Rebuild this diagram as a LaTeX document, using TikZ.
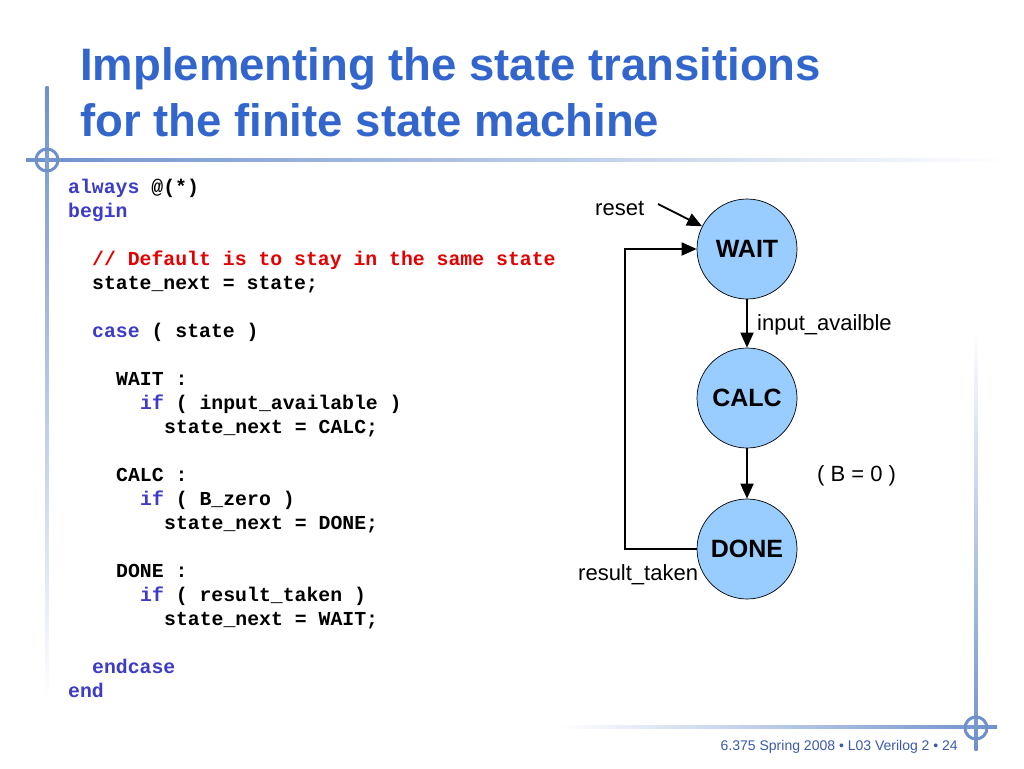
\documentclass[tikz,border=0pt]{standalone}
\usepackage{fontspec}
\setmainfont{Liberation Sans}
\newfontfamily\codefont{Liberation Mono}
\usetikzlibrary{arrows.meta}
\definecolor{titleblue}{RGB}{51,102,204}
\definecolor{deco}{RGB}{110,145,205}
\definecolor{kw}{RGB}{60,60,200}
\definecolor{cmt}{RGB}{228,0,0}
\definecolor{statefill}{RGB}{153,204,255}
\definecolor{footblue}{RGB}{60,90,170}
\begin{document}
\begin{tikzpicture}[x=1pt,y=-1pt,
  code/.style={anchor=base west,inner sep=0pt,font=\codefont\bfseries\fontsize{19.8}{24}\selectfont},
  state/.style={circle,draw=black,line width=0.7pt,fill=statefill,minimum size=100pt,inner sep=0pt,font=\bfseries\fontsize{25}{28}\selectfont},
  lbl/.style={inner sep=0pt,font=\fontsize{22}{26}\selectfont},
  arr/.style={line width=1.8pt,-{Triangle[length=15pt,width=13pt]}},
  decoline/.style={line width=3pt,draw=deco}]
\useasboundingbox (0,0) rectangle (1024,768);
\fill[white] (0,0) rectangle (1024,768);
% decorative lines
\shade[left color=deco,right color=white] (26,158.5) rectangle (1010,161.5);
\shade[top color=deco,bottom color=white] (45.5,86) rectangle (48.5,700);
\draw[decoline] (47,160) circle (11);
\shade[left color=white,right color=deco] (560,725) rectangle (997,728);
\shade[top color=white,bottom color=deco] (974.5,330) rectangle (977.5,750);
\draw[decoline] (976,728) circle (11);
% title
\node[anchor=base west,inner sep=0pt,text=titleblue,font=\bfseries\fontsize{45.5}{50}\selectfont] (t1) at (80,80) {Implementing the state transitions};
\node[anchor=base west,inner sep=0pt,text=titleblue,font=\bfseries\fontsize{45.5}{50}\selectfont] (t2) at (80,136) {for the finite state machine};
% code
\node[code] (l1) at (68,193) {\textcolor{kw}{always} @(*)};
\node[code] (l2) at (68,217) {\textcolor{kw}{begin}};
\node[code] (l3) at (92,265) {\textcolor{cmt}{// Default is to stay in the same state}};
\node[code] (l4) at (92,289) {state\_next = state;};
\node[code] (l5) at (92,337) {\textcolor{kw}{case} ( state )};
\node[code] (l6) at (116,385) {WAIT :};
\node[code] (l7) at (140,409) {\textcolor{kw}{if} ( input\_available )};
\node[code] (l8) at (164,433) {state\_next = CALC;};
\node[code] (l9) at (116,481) {CALC :};
\node[code] (l10) at (140,505) {\textcolor{kw}{if} ( B\_zero )};
\node[code] (l11) at (164,529) {state\_next = DONE;};
\node[code] (l12) at (116,577) {DONE :};
\node[code] (l13) at (140,601) {\textcolor{kw}{if} ( result\_taken )};
\node[code] (l14) at (164,625) {state\_next = WAIT;};
\node[code] (l15) at (92,673) {\textcolor{kw}{endcase}};
\node[code] (l16) at (68,697) {\textcolor{kw}{end}};
% state diagram
\node[state] (wait) at (747,249) {WAIT};
\node[state] (calc) at (747,398) {CALC};
\node[state] (done) at (747,549) {DONE};
\coordinate (rs) at (658,204);
\coordinate (lp) at (625,549);
\draw[arr] (rs) -- (wait);
\draw[arr] (wait) -- (calc);
\draw[arr] (calc) -- (done);
\draw[arr] (done.west) -- (lp) |- (wait.west);
\node[lbl,anchor=base west] (reset) at (595,215) {reset};
\node[lbl,anchor=base west] (ia) at (757,330) {input\_availble};
\node[lbl,anchor=base west] (bz) at (817,481) {( B = 0 )};
\node[lbl,anchor=base west] (rt) at (578,580) {result\_taken};
% footer
\node[anchor=base east,inner sep=0pt,text=footblue,font=\fontsize{14}{16}\selectfont] (foot) at (958,750) {6.375 Spring 2008 • L03 Verilog 2 • 24};
\end{tikzpicture}
\end{document}
